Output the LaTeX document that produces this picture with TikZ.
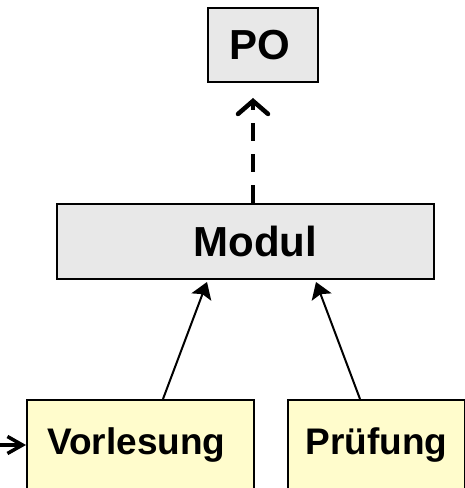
\documentclass[tikz,border=0pt]{standalone}
\usepackage{fontspec}
\setmainfont{Liberation Sans}
\usetikzlibrary{positioning,arrows.meta}

\tikzset{
  graybox/.style={draw, line width=2pt, fill=black!9, font=\fontsize{42}{50}\selectfont\bfseries, inner sep=0pt},
  yellowbox/.style={draw, line width=2pt, fill=yellow!20, font=\fontsize{37}{44}\selectfont\bfseries, inner sep=0pt, minimum height=90pt},
  openhead/.style={-{Straight Barb[length=13pt,width=30pt,line cap=round]}},
  fullhead/.style={-{Stealth[length=16pt,width=21pt,inset=3pt]}}
}

\begin{document}
\begin{tikzpicture}[x=1pt,y=1pt]
  \useasboundingbox (0,0) rectangle (464,488);
  \node[graybox, minimum width=110pt, minimum height=74pt] (po) at (263,443) {PO\hspace*{7pt}};
  \node[graybox, minimum width=377pt, minimum height=75pt] (modul) at (245.5,246.5) {\hspace*{20pt}Modul};
  \node[yellowbox, minimum width=227pt] (vorl) at (140.5,43) {Vorlesung\hspace*{8pt}};
  \node[yellowbox, minimum width=177pt, right=32pt of vorl] (pruef) {Prüfung};
  \coordinate (ext) at (-6,43);

  \draw [openhead, line width=4.5pt, dash pattern=on 18pt off 13pt]
    ([xshift=7.5pt]modul.north) -- ([xshift=7.5pt,yshift=-15pt]modul.north |- po.south);
  \draw [fullhead, line width=2pt] ([xshift=22.5pt]vorl.north) -- ([xshift=-38.5pt,yshift=-2pt]modul.south);
  \draw [fullhead, line width=2pt] ([xshift=-16.5pt]pruef.north) -- ([xshift=70.5pt,yshift=-2pt]modul.south);
  \draw [-{Straight Barb[length=15pt,width=17pt]}, line width=3.5pt] (ext) -- (vorl.west);
\end{tikzpicture}
\end{document}
